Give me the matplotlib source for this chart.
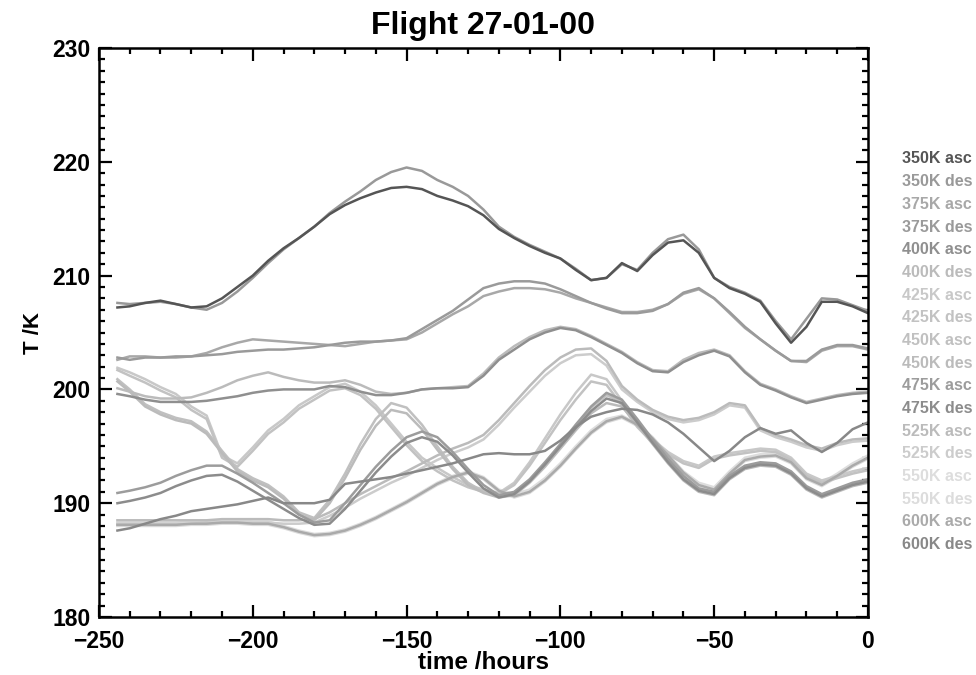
import matplotlib
matplotlib.use("Agg")
import matplotlib.pyplot as plt
from matplotlib.ticker import MultipleLocator

plt.rcParams['font.family'] = ['Liberation Sans', 'DejaVu Sans']
plt.rcParams['font.weight'] = 'bold'

# time axis shared by all curves (hours before arrival)
hours = [-244, -240, -235, -230, -225, -220, -215, -210, -205, -200,
         -195, -190, -185, -180, -175, -170, -165, -160, -155, -150,
         -145, -140, -135, -130, -125, -120, -115, -110, -105, -100,
         -95, -90, -85, -80, -75, -70, -65, -60, -55, -50,
         -45, -40, -35, -30, -25, -20, -15, -10, -5, 0]

t350_asc = [207.2, 207.3, 207.6, 207.8, 207.5, 207.2, 207.3, 208.0, 209.0, 210.0,
            211.3, 212.4, 213.3, 214.3, 215.4, 216.2, 216.8, 217.3, 217.7, 217.8,
            217.6, 217.0, 216.6, 216.1, 215.3, 214.1, 213.3, 212.6, 212.0, 211.5,
            210.5, 209.6, 209.8, 211.1, 210.4, 211.8, 212.9, 213.1, 212.0, 209.8,
            208.9, 208.4, 207.7, 205.8, 204.1, 205.5, 207.7, 207.7, 207.3, 206.7]
t350_des = [207.6, 207.5, 207.6, 207.7, 207.5, 207.2, 207.0, 207.6, 208.6, 209.8,
            211.1, 212.3, 213.3, 214.3, 215.5, 216.5, 217.4, 218.4, 219.1, 219.5,
            219.2, 218.4, 217.8, 217.0, 215.8, 214.3, 213.4, 212.7, 212.1, 211.5,
            210.6, 209.6, 209.8, 211.0, 210.5, 212.0, 213.2, 213.6, 212.3, 209.8,
            209.0, 208.5, 207.8, 206.0, 204.4, 206.2, 208.0, 207.9, 207.4, 206.9]
t375_asc = [202.6, 202.9, 202.9, 202.8, 202.8, 202.9, 203.2, 203.7, 204.1, 204.4,
            204.3, 204.2, 204.1, 204.0, 203.9, 203.8, 204.0, 204.2, 204.3, 204.4,
            205.0, 205.8, 206.6, 207.3, 208.2, 208.6, 208.9, 208.9, 208.8, 208.5,
            208.0, 207.6, 207.2, 206.8, 206.8, 207.0, 207.5, 208.4, 208.8, 208.0,
            206.7, 205.4, 204.4, 203.4, 202.5, 202.4, 203.4, 203.8, 203.8, 203.5]
t375_des = [202.8, 202.6, 202.8, 202.8, 202.9, 202.9, 203.0, 203.1, 203.3, 203.4,
            203.5, 203.5, 203.6, 203.7, 203.9, 204.1, 204.2, 204.2, 204.3, 204.5,
            205.3, 206.1, 206.9, 207.9, 208.9, 209.3, 209.5, 209.5, 209.3, 208.8,
            208.2, 207.6, 207.1, 206.7, 206.7, 206.9, 207.5, 208.5, 208.9, 208.0,
            206.8, 205.5, 204.4, 203.4, 202.5, 202.5, 203.5, 203.9, 203.9, 203.6]
t400_asc = [199.6, 199.4, 199.1, 198.9, 198.9, 198.9, 199.0, 199.2, 199.4, 199.7,
            199.9, 200.0, 200.0, 200.0, 200.3, 200.2, 199.8, 199.5, 199.5, 199.7,
            200.0, 200.1, 200.1, 200.2, 201.2, 202.6, 203.5, 204.4, 205.0, 205.4,
            205.2, 204.6, 203.9, 203.2, 202.3, 201.6, 201.5, 202.4, 203.0, 203.4,
            202.9, 201.5, 200.4, 199.9, 199.3, 198.8, 199.1, 199.4, 199.6, 199.7]
t400_des = [200.1, 199.8, 199.4, 199.2, 199.2, 199.3, 199.7, 200.2, 200.8, 201.2,
            201.5, 201.1, 200.8, 200.6, 200.6, 200.8, 200.4, 199.8, 199.6, 199.7,
            200.0, 200.1, 200.2, 200.3, 201.4, 202.8, 203.8, 204.6, 205.2, 205.5,
            205.3, 204.7, 204.0, 203.3, 202.4, 201.7, 201.6, 202.6, 203.2, 203.5,
            203.0, 201.6, 200.5, 200.0, 199.4, 198.9, 199.2, 199.5, 199.7, 199.8]
t425_asc = [201.9, 201.5, 200.9, 200.2, 199.6, 198.5, 197.7, 194.2, 193.5, 194.9,
            196.4, 197.4, 198.6, 199.4, 200.2, 200.5, 199.8, 198.6, 197.0, 195.4,
            194.0, 193.1, 192.3, 191.6, 191.2, 190.9, 191.8, 193.6, 195.7, 197.8,
            199.7, 201.3, 200.9, 199.0, 197.0, 195.6, 194.5, 193.7, 193.3, 194.1,
            194.4, 194.6, 194.8, 194.7, 194.0, 192.6, 192.0, 192.4, 192.8, 193.1]
t425_des = [201.7, 201.2, 200.6, 199.9, 199.3, 198.2, 197.4, 194.0, 193.2, 194.6,
            196.1, 197.1, 198.3, 199.1, 199.9, 200.1, 199.5, 198.3, 196.7, 195.1,
            193.7, 192.8, 192.0, 191.4, 191.0, 190.8, 191.6, 193.3, 195.3, 197.3,
            199.1, 200.7, 200.4, 198.6, 196.7, 195.3, 194.3, 193.5, 193.1, 193.9,
            194.2, 194.4, 194.6, 194.5, 193.8, 192.4, 191.8, 192.2, 192.6, 192.9]
t450_asc = [200.9, 200.0, 198.7, 198.0, 197.5, 197.2, 196.3, 194.6, 193.0, 192.2,
            191.6, 190.6, 189.2, 188.7, 190.3, 192.6, 195.2, 197.4, 198.8, 198.4,
            196.9, 195.0, 193.2, 191.8, 191.0, 190.6, 190.9, 192.0, 193.5, 195.1,
            196.8, 198.4, 199.5, 198.9, 197.2, 195.4, 193.7, 192.2, 191.2, 190.9,
            192.3, 193.2, 193.5, 193.4, 192.7, 191.4, 190.7, 191.2, 191.7, 192.0]
t450_des = [200.7, 199.8, 198.5, 197.8, 197.3, 197.0, 196.1, 194.4, 192.8, 192.0,
            191.4, 190.4, 189.0, 188.5, 190.0, 192.2, 194.7, 196.8, 198.2, 197.9,
            196.5, 194.7, 193.0, 191.6, 190.9, 190.5, 190.7, 191.8, 193.2, 194.8,
            196.4, 197.9, 198.8, 198.5, 196.9, 195.2, 193.5, 192.0, 191.0, 190.7,
            192.1, 193.0, 193.3, 193.2, 192.5, 191.2, 190.5, 191.0, 191.5, 191.8]
t475_asc = [190.9, 191.1, 191.4, 191.8, 192.4, 192.9, 193.3, 193.3, 192.6, 191.8,
            190.9, 190.0, 189.0, 188.3, 188.5, 190.0, 191.6, 193.2, 194.6, 195.8,
            196.3, 195.8, 194.5, 193.0, 191.6, 190.7, 191.0, 192.1, 193.6, 195.2,
            196.9, 198.5, 199.7, 199.1, 197.4, 195.6, 193.9, 192.4, 191.3, 191.0,
            192.4, 193.3, 193.6, 193.5, 192.8, 191.5, 190.8, 191.3, 191.8, 192.1]
t475_des = [190.0, 190.2, 190.5, 190.9, 191.5, 192.0, 192.4, 192.5, 191.9, 191.1,
            190.3, 189.5, 188.7, 188.1, 188.2, 189.5, 191.1, 192.7, 194.1, 195.3,
            195.8, 195.4, 194.2, 192.7, 191.3, 190.5, 190.8, 191.9, 193.4, 195.0,
            196.6, 198.1, 199.2, 198.8, 197.1, 195.3, 193.6, 192.1, 191.1, 190.8,
            192.2, 193.1, 193.4, 193.3, 192.6, 191.3, 190.6, 191.1, 191.6, 191.9]
t525_asc = [188.5, 188.5, 188.5, 188.5, 188.5, 188.5, 188.5, 188.6, 188.6, 188.6,
            188.6, 188.5, 188.5, 188.6, 189.2, 190.0, 190.8, 191.5, 192.2, 192.8,
            193.5, 194.2, 194.8, 195.3, 196.0, 197.3, 198.8, 200.3, 201.7, 202.8,
            203.5, 203.6, 202.5, 200.3, 199.1, 198.2, 197.6, 197.3, 197.5, 198.0,
            198.8, 198.6, 196.6, 196.0, 195.6, 195.1, 194.8, 195.3, 195.6, 195.7]
t525_des = [188.2, 188.2, 188.2, 188.2, 188.2, 188.2, 188.3, 188.3, 188.3, 188.3,
            188.3, 188.2, 188.2, 188.3, 188.9, 189.6, 190.4, 191.1, 191.8, 192.4,
            193.1, 193.8, 194.4, 194.9, 195.6, 196.9, 198.4, 199.8, 201.2, 202.3,
            203.0, 203.1, 202.1, 200.0, 198.9, 198.0, 197.4, 197.1, 197.3, 197.8,
            198.6, 198.4, 196.4, 195.8, 195.4, 194.9, 194.6, 195.1, 195.4, 195.5]
t550_asc = [188.3, 188.3, 188.3, 188.3, 188.3, 188.4, 188.4, 188.5, 188.5, 188.4,
            188.4, 188.0, 187.6, 187.3, 187.4, 187.7, 188.2, 188.8, 189.5, 190.2,
            191.0, 191.8, 192.4, 192.8, 192.3, 191.2, 190.8, 191.2, 192.2, 193.5,
            195.0, 196.4, 197.4, 197.7, 197.0, 195.8, 194.3, 192.8, 191.8, 191.4,
            192.8, 194.0, 194.3, 194.4, 193.8, 192.4, 191.8, 192.6, 193.5, 194.2]
t550_des = [188.0, 188.0, 188.0, 188.0, 188.0, 188.1, 188.1, 188.2, 188.2, 188.1,
            188.1, 187.8, 187.4, 187.1, 187.2, 187.5, 188.0, 188.6, 189.3, 190.0,
            190.8, 191.6, 192.2, 192.6, 192.1, 191.0, 190.5, 190.9, 191.9, 193.2,
            194.7, 196.1, 197.1, 197.5, 196.8, 195.6, 194.1, 192.6, 191.5, 191.1,
            192.5, 193.7, 194.0, 194.1, 193.5, 192.1, 191.5, 192.3, 193.2, 193.9]
t600_asc = [188.1, 188.1, 188.1, 188.1, 188.1, 188.2, 188.2, 188.3, 188.3, 188.2,
            188.2, 187.9, 187.5, 187.2, 187.3, 187.6, 188.1, 188.7, 189.4, 190.1,
            190.9, 191.7, 192.3, 192.7, 192.2, 191.1, 190.6, 191.0, 192.0, 193.3,
            194.8, 196.2, 197.2, 197.6, 196.9, 195.7, 194.2, 192.7, 191.6, 191.2,
            192.6, 193.8, 194.1, 194.2, 193.6, 192.2, 191.6, 192.4, 193.3, 194.0]
t600_des = [187.6, 187.8, 188.2, 188.6, 188.9, 189.3, 189.5, 189.7, 189.9, 190.2,
            190.5, 190.0, 190.0, 190.0, 190.3, 191.7, 191.9, 192.1, 192.3, 192.6,
            192.9, 193.2, 193.5, 193.9, 194.3, 194.4, 194.3, 194.3, 194.6, 195.5,
            196.7, 197.6, 198.0, 198.3, 198.2, 197.8, 197.1, 196.1, 194.9, 193.7,
            194.6, 195.8, 196.6, 196.1, 196.4, 195.3, 194.5, 195.3, 196.5, 197.1]

labels = ['350K asc', '350K des', '375K asc', '375K des', '400K asc', '400K des',
          '425K asc', '425K des', '450K asc', '450K des', '475K asc', '475K des',
          '525K asc', '525K des', '550K asc', '550K des', '600K asc', '600K des']
series = [t350_asc, t350_des, t375_asc, t375_des, t400_asc, t400_des,
          t425_asc, t425_des, t450_asc, t450_des, t475_asc, t475_des,
          t525_asc, t525_des, t550_asc, t550_des, t600_asc, t600_des]
greys = ['#555555', '#999999', '#a8a8a8', '#9a9a9a', '#8f8f8f', '#bbbbbb',
         '#c8c8c8', '#c2c2c2', '#c0c0c0', '#bbbbbb', '#9c9c9c', '#8c8c8c',
         '#bbbbbb', '#cccccc', '#dddddd', '#dcdcdc', '#aaaaaa', '#888888']

fig = plt.figure(figsize=(9.76, 6.75), dpi=100)
ax = fig.add_axes([0.1014, 0.0859, 0.7879, 0.843])

# draw light ones first so darker lines sit on top
order = sorted(range(len(series)), key=lambda i: -int(greys[i][1:3], 16))
for i in order:
    ax.plot(hours, series[i], color=greys[i], lw=1.8, solid_joinstyle='round')

ax.set_xlim(-250, 0)
ax.set_ylim(180, 230)
ax.xaxis.set_major_locator(MultipleLocator(50))
ax.xaxis.set_minor_locator(MultipleLocator(10))
ax.yaxis.set_major_locator(MultipleLocator(10))
ax.yaxis.set_minor_locator(MultipleLocator(1))
ax.tick_params(which='both', direction='in', top=True, right=True, width=1.6,
               labelsize=16.5)
ax.tick_params(axis='x', pad=9)
ax.tick_params(axis='y', pad=6)
ax.tick_params(which='major', length=9)
ax.tick_params(which='minor', length=4.5)
for s in ax.spines.values():
    s.set_linewidth(1.8)

ax.set_title('Flight 27-01-00', fontsize=23, fontweight='bold', pad=10)
ax.set_xlabel('time /hours', fontsize=17.5, fontweight='bold', labelpad=-1)
ax.set_ylabel('T /K', fontsize=16, fontweight='bold', labelpad=6)

# label column on the right, each text in its line colour
for k, (lab, c) in enumerate(zip(labels, greys)):
    fig.text(0.924, 0.7645 - k * 0.0336, lab, color=c, fontsize=11.5,
             fontweight='bold', va='center', ha='left')

fig.savefig('out.png', dpi=100)
